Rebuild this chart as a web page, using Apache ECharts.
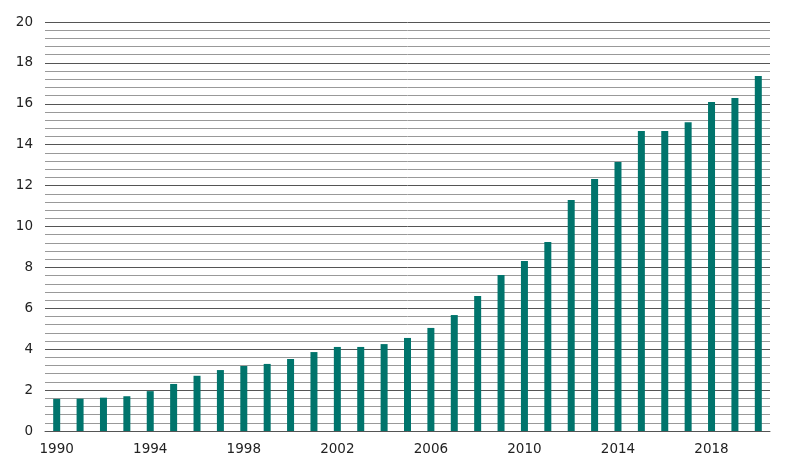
<!DOCTYPE html>
<html><head><meta charset="utf-8">
<script src="https://cdn.jsdelivr.net/npm/echarts@6/dist/echarts.min.js"></script>
<style>html,body{margin:0;padding:0;background:#fff}#c{width:798px;height:472px}</style>
</head><body><div id="c"></div>
<script>
const years = ['1990','1991','1992','1993','1994','1995','1996','1997','1998','1999','2000','2001','2002','2003','2004','2005','2006','2007','2008','2009','2010','2011','2012','2013','2014','2015','2016','2017','2018','2019','2020'];
const values = [1.57,1.58,1.63,1.7,1.95,2.3,2.7,2.98,3.18,3.28,3.52,3.86,4.11,4.11,4.25,4.55,5.04,5.67,6.6,7.63,8.31,9.24,11.3,12.32,13.15,14.67,14.67,15.1,16.09,16.28,17.36];
const chart = echarts.init(document.getElementById('c'));
chart.setOption({
  animation:false,
  grid:{left:45,right:28,top:22,bottom:41,containLabel:false},
  xAxis:{type:'category',data:years,
    axisLine:{lineStyle:{color:'#555',width:1}},
    axisTick:{show:false},
    axisLabel:{interval:3,color:'#222',fontFamily:'DejaVu Sans',fontSize:13.5,margin:11}},
  yAxis:{type:'value',min:0,max:20,interval:2,
    axisLine:{show:false},axisTick:{show:false},
    axisLabel:{color:'#222',fontFamily:'DejaVu Sans',fontSize:13.5,margin:12},
    splitLine:{lineStyle:{color:'#555',width:1}},
    minorTick:{show:false,splitNumber:5},
    minorSplitLine:{show:true,lineStyle:{color:'#999',width:1}}},
  series:[{type:'bar',data:values,barWidth:7,itemStyle:{color:'#00746c'}}]
});
</script></body></html>
